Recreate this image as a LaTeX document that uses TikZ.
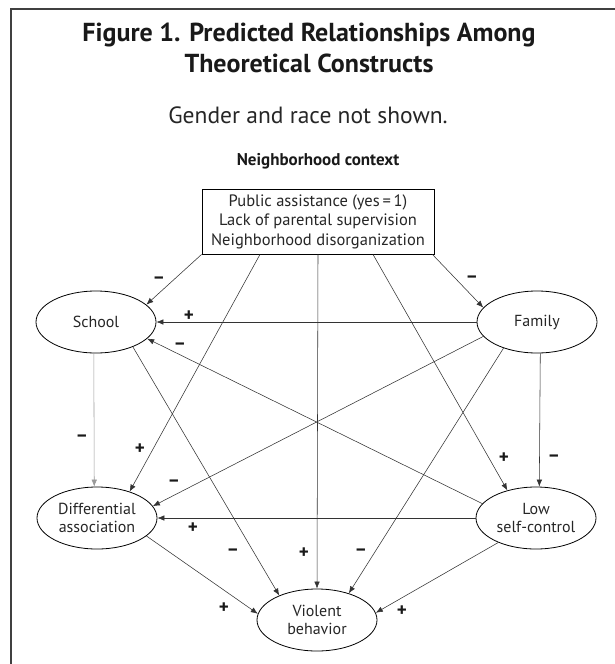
\documentclass[tikz,border=0pt]{standalone}
\usepackage{fontspec}
\setmainfont{PT Sans}
\usetikzlibrary{shapes.geometric,arrows.meta,calc}
\begin{document}
\begin{tikzpicture}[x=1pt,y=-1pt,
  oval/.style={ellipse,draw=black,line width=0.8pt,minimum width=120pt,minimum height=62pt,inner sep=0pt,align=center,font=\fontsize{16}{18.5}\selectfont,text=black!85},
  conn/.style={draw=black!80,line width=0.55pt,-{Latex[length=7pt,width=5.5pt]}},
  sgn/.style={font=\fontsize{19}{19}\selectfont\bfseries,inner sep=0pt,text=black!90}]
\useasboundingbox (0,0) rectangle (615,664);
\draw[line width=1.5pt,black!75] (11,664) -- (11,9) -- (615,9);
\node[font=\fontsize{26}{31}\selectfont\bfseries,align=center,text=black!90] (title) at (309,48) {Figure 1. Predicted Relationships Among\\Theoretical Constructs};
\node[font=\fontsize{23.5}{26}\selectfont,text=black!85] (sub) at (308,115) {Gender and race not shown.};
\node[font=\fontsize{17}{19}\selectfont\bfseries,text=black!90] (ctx) at (318,161) {Neighborhood context};
\node[draw=black,line width=0.8pt,fill=white,minimum width=232pt,minimum height=65pt,inner sep=0pt,align=center,font=\fontsize{16.5}{19.5}\selectfont,text=black!85] (box) at (318,221.5) {Public assistance (yes\,=\,1)\\Lack of parental supervision\\Neighborhood disorganization};
\node[oval] (school) at (96,322) {School};
\node[oval] (family) at (537,322) {Family};
\node[oval] (diff) at (97,518) {Differential\\association};
\node[oval] (low) at (536,518) {Low\\self-control};
\node[oval] (violent) at (317,620) {Violent\\behavior};
\draw[conn] (box.south west) -- (school.19);
\draw[conn] ([xshift=-2pt]box.south east) -- (family.165);
\draw[conn] ([xshift=-58pt]box.south) -- (diff.39);
\draw[conn] (box.south) -- (violent.north);
\draw[conn] ([xshift=55pt]box.south) -- (low.136);
\draw[conn] (family.west) -- (school.east);
\draw[conn] (low.165) -- (school.-18);
\draw[conn,draw=black!40] (school.-94) -- (diff.95);
\draw[conn] (school.-34) -- (violent.147);
\draw[conn] (family.-165) -- (diff.12);
\draw[conn] (family.-142) -- (violent.40);
\draw[conn] (family.-84) -- (low.84);
\draw[conn] (low.west) -- (diff.east);
\draw[conn] (diff.-20) -- (violent.174);
\draw[conn] (low.-147) -- (violent.7);
\node[sgn] (m1) at (159,280) {–};
\node[sgn] (m2) at (472,279) {–};
\node[sgn] (p1) at (189,316) {+};
\node[sgn] (m3) at (180,346) {–};
\node[sgn] (m4) at (82,438) {–};
\node[sgn] (p2) at (140,449) {+};
\node[sgn] (m5) at (174,483) {–};
\node[sgn] (p3) at (193,528) {+};
\node[sgn] (p4) at (504,458) {+};
\node[sgn] (m6) at (554,458) {–};
\node[sgn] (m7) at (233,552) {–};
\node[sgn] (p5) at (304,553) {+};
\node[sgn] (m8) at (361,552) {–};
\node[sgn] (p6) at (224,608) {+};
\node[sgn] (p7) at (402,611) {+};
\end{tikzpicture}
\end{document}
